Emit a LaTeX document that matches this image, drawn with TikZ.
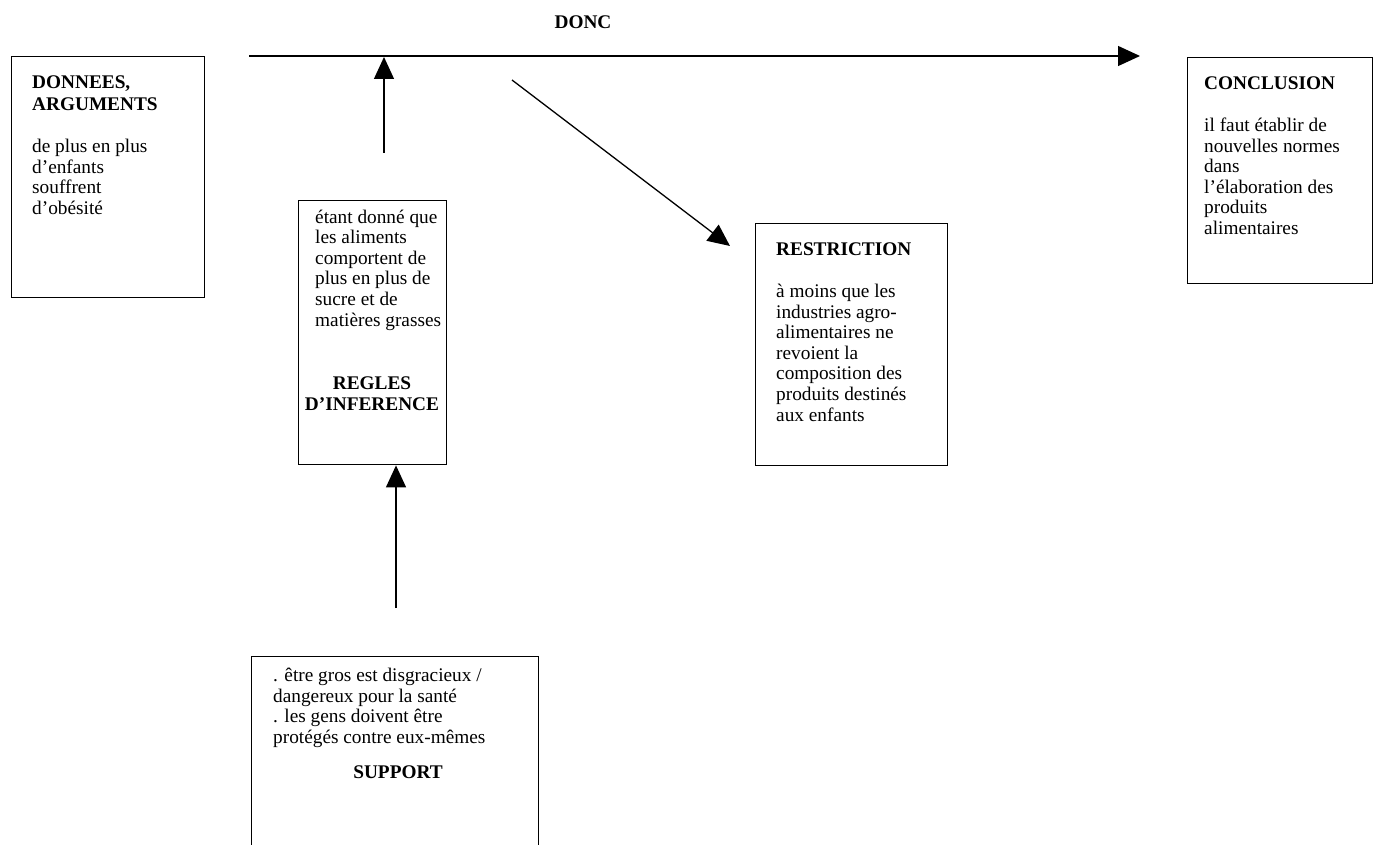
\documentclass[tikz,border=0pt]{standalone}
\usepackage{fontspec}
\setmainfont{Liberation Serif}
\usetikzlibrary{arrows.meta}
\tikzset{
  frame/.style={draw, line width=1.4pt, anchor=north west, inner sep=0pt},
  txt/.style={anchor=north west, inner sep=0pt, align=left,
    font=\fontsize{19.3}{20.6}\selectfont},
  ttl/.style={anchor=north, inner sep=0pt, align=center,
    font=\fontsize{19.3}{21}\selectfont\bfseries},
  link/.style={line width=1.3pt, -{Triangle[length=22pt,width=20pt]}},
}
\begin{document}
\begin{tikzpicture}[x=1pt,y=-1pt]
    \useasboundingbox (0,0) rectangle (1373,845);

        % boxes
        \node[frame, minimum width=193pt, minimum height=241pt] (data) at (11,56) {};
        \node[frame, minimum width=148pt, minimum height=264pt] (regles) at (298,200) {};
        \node[frame, minimum width=192pt, minimum height=242pt] (restr) at (755,223) {};
        \node[frame, minimum width=185pt, minimum height=226pt] (concl) at (1187,57) {};
        \node[frame, minimum width=287pt, minimum height=220pt] (support) at (251,656) {};

        % texts
        \node[txt] (datatxt) at (32,75.5)
            {\textbf{DONNEES,}\\[1.5pt]\textbf{ARGUMENTS}\\[21.5pt]
             de plus en plus\\d'enfants\\souffrent\\d'obésité};
        \node[txt] (reglestxt) at (315,209.5)
            {étant donné que\\les aliments\\comportent de\\plus en plus de\\sucre et de\\matières grasses};
        \node[ttl] (reglesttl) at (372,377) {REGLES\\D'INFERENCE};
        \node[txt] (restrtxt) at (776,242.5)
            {\textbf{RESTRICTION}\\[21.5pt]
             à moins que les\\industries agro-\\alimentaires ne\\revoient la\\composition des\\produits destinés\\aux enfants};
        \node[txt] (concltxt) at (1204,76.5)
            {\textbf{CONCLUSION}\\[21.5pt]
             il faut établir de\\nouvelles normes\\dans\\l'élaboration des\\produits\\alimentaires};
        \node[txt] (supporttxt) at (273,668)
            {. être gros est disgracieux /\\dangereux pour la santé\\. les gens doivent être\\protégés contre eux-mêmes};
        \node[ttl] (supportttl) at (398,766) {SUPPORT};
        \node[ttl, anchor=center] (donc) at (583,22) {DONC};

        % connectors
        \coordinate (doncstart) at (249,56);
        \coordinate (doncend) at (1140,56);
        \coordinate (warrantfoot) at (384,153);
        \coordinate (warranttip) at (384,57);
        \coordinate (restrfoot) at (512,80);
        \coordinate (restrtip) at (730,246);
        \coordinate (supportfoot) at (396,608);

        \draw[link] (doncstart) -- (doncend);
        \draw[link] (warrantfoot) -- (warranttip);
        \draw[link] (restrfoot) -- (restrtip);
        \draw[link] (supportfoot) -- (supportfoot |- regles.south);
\end{tikzpicture}
\end{document}
